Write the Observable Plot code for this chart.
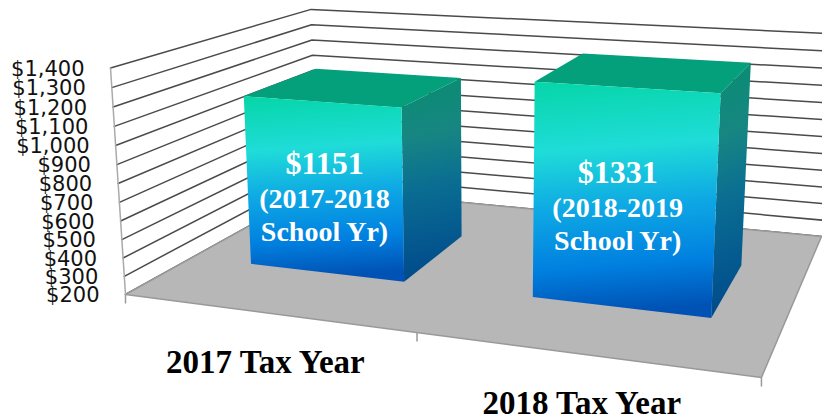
<!DOCTYPE html>
<html>
<head>
<meta charset="utf-8">
<script src="https://cdn.jsdelivr.net/npm/d3@7"></script>
<script src="https://cdn.jsdelivr.net/npm/@observablehq/plot@0.6"></script>
<style>html,body{margin:0;padding:0;background:#fff}</style>
</head>
<body>
<div id="chart"></div>
<script>
// Data
const taxYears = ["2017 Tax Year", "2018 Tax Year"];
const amounts = [1151, 1331];
const amountLabels = ["$1151", "$1331"];
const schoolYears = ["(2017-2018", "(2018-2019"];
const schoolSuffix = "School Yr)";
const axisValues = [200, 300, 400, 500, 600, 700, 800, 900, 1000, 1100, 1200, 1300, 1400];
const axisLabels = ["$200", "$300", "$400", "$500", "$600", "$700", "$800", "$900", "$1,000", "$1,100", "$1,200", "$1,300", "$1,400"];

// 3D chart box: category axis u (0..1), depth d (0..1), value v (200..1400), viewed in perspective
const camera = {
  u: [519, 25.06, -0.1537],
  d: [278.75, -53.79, 0.2777],
  v: [-19.4, -229.2, -0.04],
  o: [125, 294, 1]
};
const valueSpan = d3.scaleLinear([200, 1400], [0, 1]);
function project(u, d, value) {
  const t = valueSpan(value);
  const [a, b, w] = [0, 1, 2].map(i => u * camera.u[i] + d * camera.d[i] + t * camera.v[i] + camera.o[i]);
  return [a / w, b / w];
}
const px = p => project(...p)[0];
const py = p => project(...p)[1];

const slot = 1 / taxYears.length;
const barHalf = 0.1405;
const barCentre = i => (i + 0.5) * slot + 0.003;
const depthFront = 0.3, depthBack = 0.69;
const baseValue = axisValues[0], topValue = axisValues[axisValues.length - 1];

const face = (pts, opts) => Plot.line(pts, {x: px, y: py, stroke: "none", ...opts});

const gradient = (id, stops) => {
  const g = d3.create("svg:linearGradient").attr("id", id)
    .attr("x1", 0).attr("y1", 0).attr("x2", 0.06).attr("y2", 1);
  for (const [o, c] of stops) g.append("stop").attr("offset", o).attr("stop-color", c);
  return g.node();
};
const defs = () => {
  const d = d3.create("svg:defs");
  d.append(() => gradient("front", [[0, "#05d6a8"], [0.3, "#1fdcd8"], [0.55, "#0ea8e4"], [0.8, "#0080e0"], [1, "#0052b4"]]));
  d.append(() => gradient("side", [[0, "#088d70"], [0.3, "#178682"], [0.55, "#0a6e92"], [1, "#004a8c"]]));
  return d.node();
};

const marks = [defs];

// walls
for (const value of axisValues) {
  marks.push(Plot.line([[0, 0, value], [0, 1, value], [1.1, 1, value]], {x: px, y: py, stroke: "#4a4a4a", strokeWidth: 1.5}));
}
// floor
marks.push(face([[0, 0, baseValue], [1, 0, baseValue], [1, 1, baseValue], [0, 1, baseValue]], {fill: "#b7b7b7"}));
marks.push(Plot.line([[0, 1, baseValue], [0, 0, baseValue], [1, 0, baseValue], [1, 1, baseValue], [0, 1, baseValue]], {x: px, y: py, stroke: "#999", strokeWidth: 1.5}));

// value axis and category ticks
marks.push(Plot.line([[0, 0, baseValue], [0, 0, topValue]], {x: px, y: py, stroke: "#aaa", strokeWidth: 1.5}));
for (const u of [0, 0.5, 1]) {
  marks.push(Plot.link([[u, 0, baseValue]], {
    x1: px, y1: py, x2: px, y2: p => py(p) + 9, stroke: "#999", strokeWidth: 1.5
  }));
}

// bars
amounts.forEach((amount, i) => {
  const c = barCentre(i), u0 = c - barHalf, u1 = c + barHalf;
  const f = [depthFront, depthBack];
  marks.push(face([[u0, f[0], amount], [u1, f[0], amount], [u1, f[1], amount], [u0, f[1], amount]], {fill: "#04a07c"}));
  marks.push(face([[u1, f[0], amount], [u1, f[1], amount], [u1, f[1], baseValue], [u1, f[0], baseValue]], {fill: "url(#side)"}));
  marks.push(face([[u0, f[0], amount], [u1, f[0], amount], [u1, f[0], baseValue], [u0, f[0], baseValue]], {fill: "url(#front)"}));
  const mid = (amount + baseValue) / 2;
  const anchor = [[c, f[0], mid]];
  const shift = i === 0 ? 1 : -5;
  const serif = {x: px, y: py, fill: "white", fontFamily: "Liberation Serif", fontWeight: "bold", textAnchor: "middle", lineAnchor: "bottom", dx: shift};
  const base = i === 0 ? -15 : -16;
  marks.push(Plot.text(anchor, {...serif, text: () => amountLabels[i], fontSize: 32, dy: base}));
  marks.push(Plot.text(anchor, {...serif, text: () => schoolYears[i], fontSize: 28, dy: base + 34}));
  marks.push(Plot.text(anchor, {...serif, text: () => schoolSuffix, fontSize: 28, dy: base + 67}));
});

// axis labels
marks.push(Plot.text(axisValues, {
  x: v => px([0, 0, v]), y: v => py([0, 0, v]),
  text: (v, i) => axisLabels[i], textAnchor: "end", lineAnchor: "middle",
  dx: -26, dy: 1, fontFamily: "DejaVu Sans", fontSize: 21, fill: "#111"
}));

// category labels
marks.push(Plot.text(taxYears, {
  x: (t, i) => px([(i + 0.5) * slot, 0, baseValue]),
  y: (t, i) => py([(i + 0.5) * slot, 0, baseValue]),
  text: t => t, textAnchor: "middle", lineAnchor: "bottom",
  dy: 60, fontFamily: "Liberation Serif", fontWeight: "bold", fontSize: 33, fill: "#000"
}));

const chart = Plot.plot({
  width: 822, height: 418,
  margin: 0,
  x: {type: "linear", domain: [0, 822], range: [0, 822], axis: null},
  y: {type: "linear", domain: [0, 418], range: [0, 418], axis: null},
  style: {background: "white"},
  marks
});
document.getElementById("chart").append(chart);
</script>
</body>
</html>
